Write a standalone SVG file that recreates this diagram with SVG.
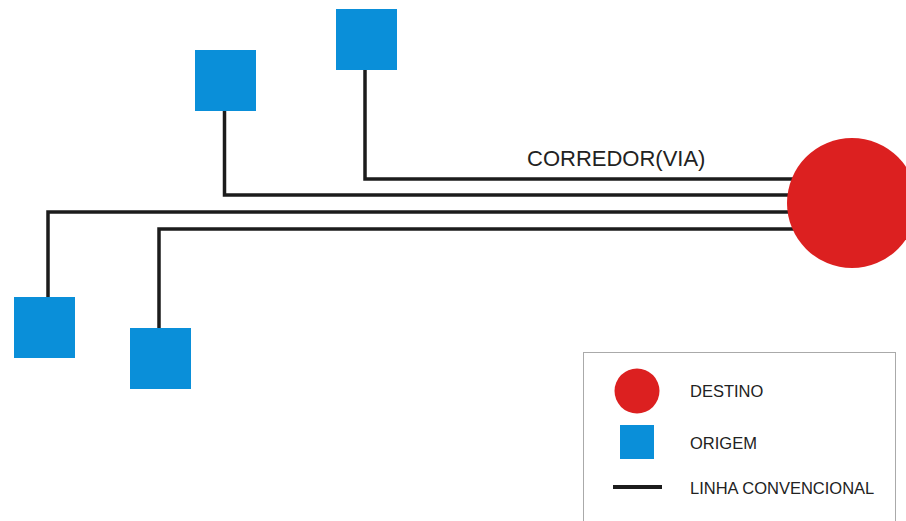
<svg xmlns="http://www.w3.org/2000/svg" width="906" height="521" viewBox="0 0 906 521">
<style>
.orig{fill:#0a8fd9}
.dest{fill:#dc2020}
.ln{fill:none;stroke:#1c1c1c;stroke-width:3.5}
.t{font-family:"Liberation Sans",Arial,sans-serif;fill:#222}
</style>
<rect width="906" height="521" fill="#fff"/>
<g id="connectors">
<polyline class="ln" points="365,70 365,179 795,179"/>
<polyline class="ln" points="224.5,111 224.5,195 795,195"/>
<polyline class="ln" points="48,297 48,212 795,212"/>
<polyline class="ln" points="159,328 159,229 795,229"/>
</g>
<g id="destino"><circle class="dest" cx="852" cy="203" r="65"/></g>
<g id="origem1"><rect class="orig" x="195" y="50" width="61" height="61"/></g>
<g id="origem2"><rect class="orig" x="336" y="9" width="61" height="61"/></g>
<g id="origem3"><rect class="orig" x="14" y="297" width="61" height="61"/></g>
<g id="origem4"><rect class="orig" x="130" y="328" width="61" height="61"/></g>
<text class="t" x="527" y="166" font-size="22">CORREDOR(VIA)</text>
<g id="legend">
<rect x="583.5" y="352.5" width="312" height="180" fill="#fff" stroke="#aaa" stroke-width="1"/>
<circle class="dest" cx="637" cy="391" r="22.5"/>
<rect class="orig" x="620" y="425" width="34" height="34"/>
<line x1="613" y1="487" x2="662" y2="487" stroke="#1c1c1c" stroke-width="4"/>
<text class="t" x="690" y="397" font-size="16.5">DESTINO</text>
<text class="t" x="690" y="449" font-size="16.5">ORIGEM</text>
<text class="t" x="690" y="494" font-size="16.5">LINHA CONVENCIONAL</text>
</g>
</svg>
